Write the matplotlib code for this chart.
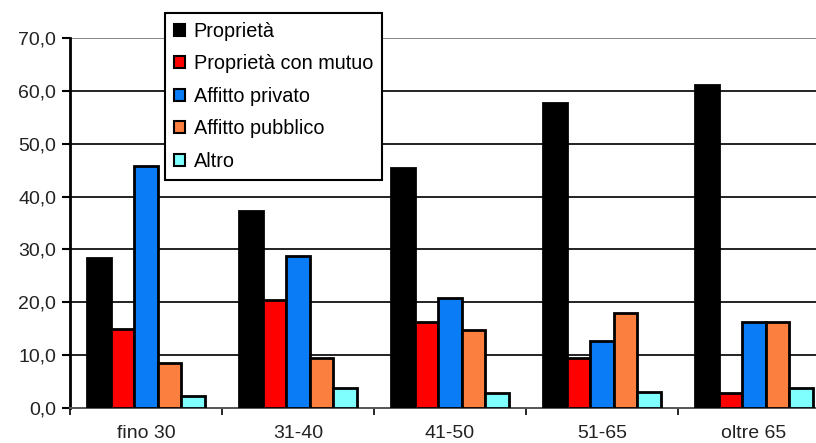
import matplotlib
matplotlib.use("Agg")
import matplotlib.pyplot as plt
import matplotlib.patches as mpatches
import numpy as np

# età del capofamiglia
categories = ["fino 30", "31-40", "41-50", "51-65", "oltre 65"]
series_names = ["Proprietà", "Proprietà con mutuo", "Affitto privato",
                "Affitto pubblico", "Altro"]
proprieta = [28.4, 37.3, 45.5, 57.7, 61.2]
proprieta_mutuo = [15.0, 20.4, 16.2, 9.5, 2.9]
affitto_privato = [45.7, 28.8, 20.9, 12.6, 16.3]
affitto_pubblico = [8.6, 9.4, 14.8, 18.0, 16.3]
altro = [2.3, 3.8, 2.9, 3.1, 3.8]
colors = ["#000000", "#ff0000", "#0a7cf5", "#fb8040", "#80ffff"]

series = [proprieta, proprieta_mutuo, affitto_privato, affitto_pubblico, altro]

plt.rcParams["font.family"] = ["Liberation Sans", "DejaVu Sans"]

fig = plt.figure(figsize=(8.16, 4.43), dpi=100)
fig.patch.set_facecolor("white")
ax = fig.add_axes([70 / 816, 35 / 443, 760 / 816, 370 / 443])

x = np.arange(len(categories))
w = 0.155
for k, (vals, c) in enumerate(zip(series, colors)):
    ax.bar(x + (k - 2) * w, vals, width=w, color=c, edgecolor="black",
           linewidth=2.0, zorder=3)

ax.set_xlim(-0.5, len(categories) - 0.5)
ax.set_ylim(0, 70)
ax.set_yticks(np.arange(0, 71, 10))
ax.set_yticklabels([f"{v:.1f}".replace(".", ",") for v in range(0, 71, 10)],
                   fontsize=14, color="#222222")
ax.set_xticks(x)
ax.set_xticklabels(categories, fontsize=14, color="#222222")
ax.set_xticks(np.arange(-0.5, len(categories)), minor=True)
ax.tick_params(axis="x", which="major", length=0, pad=12)
ax.tick_params(axis="x", which="minor", length=5, width=1.2, direction="out")
ax.tick_params(axis="y", length=6, width=1.5, direction="out", pad=4)

for v in range(10, 71, 10):
    ax.axhline(v, color="#222222" if v < 70 else "#888888", linewidth=1.4,
               zorder=1)

for s in ["top", "right"]:
    ax.spines[s].set_visible(False)
ax.spines["left"].set_linewidth(2)
ax.spines["bottom"].set_linewidth(1.4)
ax.spines["bottom"].set_color("#555555")

handles = [mpatches.Patch(facecolor=c, edgecolor="black", linewidth=1.5,
                          label=n) for c, n in zip(colors, series_names)]
leg = fig.legend(handles=handles, loc="upper left",
                 bbox_to_anchor=(165 / 816, 1 - 13 / 443),
                 frameon=True, fancybox=False, framealpha=1,
                 edgecolor="black", fontsize=14.3, handlelength=0.55,
                 handleheight=0.55, handletextpad=0.45, labelspacing=0.68,
                 borderpad=0.45, borderaxespad=0)
leg.get_frame().set_linewidth(1.5)
leg.set_zorder(10)

fig.savefig("out.png", dpi=100, facecolor="white")
